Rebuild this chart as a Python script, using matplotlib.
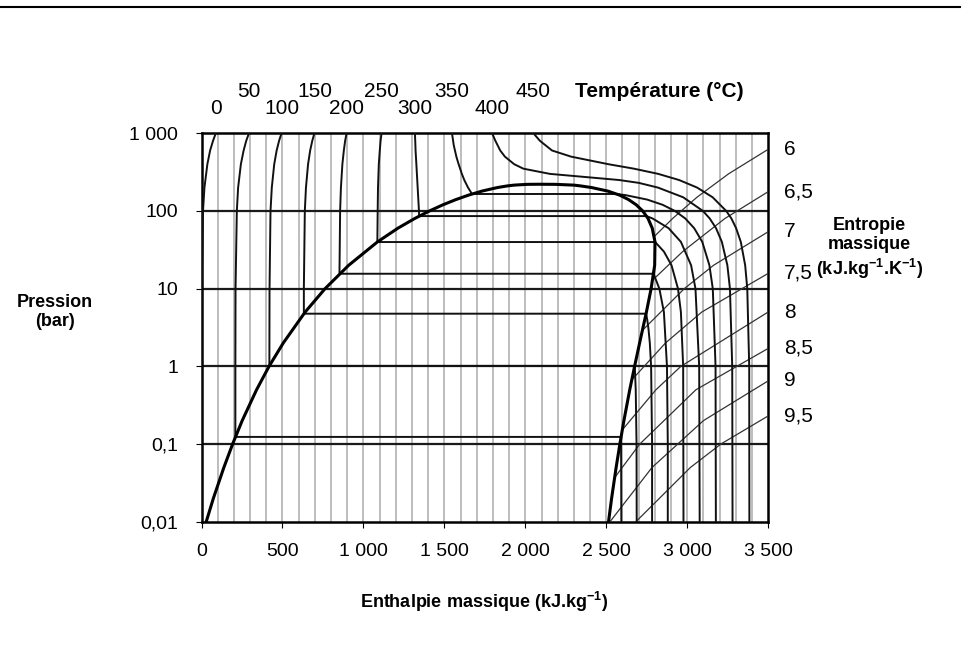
import matplotlib
matplotlib.use("Agg")
import matplotlib.pyplot as plt

plt.rcParams['font.family'] = ['Liberation Sans', 'DejaVu Sans']
plt.rcParams['mathtext.fontset'] = 'custom'
plt.rcParams['mathtext.rm'] = 'Liberation Sans'
plt.rcParams['mathtext.bf'] = 'Liberation Sans:bold'

# saturation curve (bar, kJ/kg)
sat_p = [0.01, 0.02, 0.05, 0.1, 0.2, 0.5, 1, 2, 5, 10, 20, 40, 60, 80, 100,
         120, 140, 160, 180, 200, 210, 215, 220, 220.64]
sat_hf = [29, 73, 138, 192, 251, 340, 417, 505, 640, 763, 909, 1087, 1213,
          1317, 1408, 1491, 1571, 1650, 1732, 1827, 1889, 1930, 2012, 2087]
sat_hg = [2514, 2533, 2561, 2584, 2609, 2645, 2675, 2706, 2748, 2777, 2799,
          2801, 2784, 2758, 2725, 2685, 2638, 2582, 2510, 2410, 2341, 2300,
          2185, 2087]

# isotherms (deg C): pressure and enthalpy along each line
temps = [0, 50, 100, 150, 200, 250, 300, 350, 400, 450]
iso_p = [
    [0.01, 1, 10, 100, 200, 400, 600, 800, 1000],
    [0.01, 0.05, 0.1235, 0.1235, 1, 10, 100, 200, 400, 600, 800, 1000],
    [0.01, 0.1, 0.5, 1.013, 1.013, 10, 100, 200, 400, 600, 800, 1000],
    [0.01, 0.1, 1, 2, 3, 4, 4.76, 4.76, 10, 100, 200, 400, 600, 800, 1000],
    [0.01, 0.1, 1, 5, 10, 15.55, 15.55, 100, 200, 400, 600, 800, 1000],
    [0.01, 1, 5, 10, 20, 30, 39.8, 39.8, 100, 200, 400, 600, 800, 1000],
    [0.01, 1, 10, 20, 40, 60, 80, 85.9, 85.9, 100, 200, 400, 600, 800, 1000],
    [0.01, 1, 10, 20, 40, 60, 80, 100, 120, 140, 160, 165.3, 165.3, 200, 250,
     300, 400, 500, 700, 1000],
    [0.01, 1, 10, 20, 40, 60, 80, 100, 150, 200, 230, 250, 270, 300, 350,
     400, 500, 600, 800, 1000],
    [0.01, 1, 10, 20, 40, 60, 80, 100, 150, 200, 250, 300, 350, 400, 500,
     600, 800, 1000],
]
iso_h = [
    [0, 0.1, 1, 9, 18, 36, 53, 71, 88],
    [2593, 2592, 2591, 209, 209, 210, 218, 226, 243, 260, 276, 293],
    [2688, 2687, 2682, 2676, 419, 420, 426, 434, 449, 464, 479, 494],
    [2783, 2783, 2777, 2769, 2761, 2753, 2746, 632, 632, 638, 645, 658, 671,
     684, 697],
    [2880, 2880, 2875, 2856, 2828, 2792, 852, 856, 861, 870, 879, 887, 896],
    [2977, 2975, 2961, 2943, 2903, 2856, 2802, 1086, 1088, 1090, 1095, 1101,
     1106, 1112],
    [3077, 3074, 3051, 3024, 2961, 2885, 2786, 2749, 1344, 1343, 1335, 1327,
     1322, 1320, 1318],
    [3177, 3175, 3158, 3137, 3093, 3043, 2988, 2924, 2848, 2753, 2618, 2564,
     1671, 1646, 1623, 1608, 1588, 1574, 1558, 1547],
    [3280, 3278, 3264, 3248, 3214, 3178, 3139, 3097, 2975, 2819, 2700, 2580,
     2400, 2152, 1988, 1931, 1874, 1845, 1815, 1795],
    [3384, 3383, 3371, 3358, 3331, 3302, 3273, 3241, 3157, 3061, 2950, 2821,
     2671, 2512, 2283, 2165, 2090, 2050],
]

# isentropes (kJ/kg/K)
entropies = ['6', '6,5', '7', '7,5', '8', '8,5', '9', '9,5']
ise_p = [
    [47, 80, 150, 300, 621],
    [12.8, 30, 80, 177],
    [2.9, 10, 20, 54],
    [0.66, 2, 5, 15.7],
    [0.153, 0.5, 1, 5.0],
    [0.037, 0.1, 0.5, 1.7],
    [0.01, 0.05, 0.2, 0.65],
    [0.01, 0.05, 0.1, 0.23],
]
ise_h = [
    [2797, 2910, 3060, 3255, 3500],
    [2785, 2972, 3233, 3500],
    [2723, 2982, 3163, 3500],
    [2655, 2866, 3090, 3500],
    [2600, 2807, 2961, 3500],
    [2552, 2707, 3054, 3500],
    [2523, 2783, 3100, 3500],
    [2683, 3020, 3208, 3500],
]

x_ticks = [0, 500, 1000, 1500, 2000, 2500, 3000, 3500]
x_labels = ['0', '500', '1 000', '1 500', '2 000', '2 500', '3 000', '3 500']
y_ticks = [0.01, 0.1, 1, 10, 100, 1000]
y_labels = ['0,01', '0,1', '1', '10', '100', '1 000']

fig = plt.figure(figsize=(9.62, 6.6), dpi=100)
ax = fig.add_axes([0.2095, 0.2095, 0.589, 0.5886])
ax.set_yscale('log')
ax.set_xlim(0, 3500)
ax.set_ylim(0.01, 1000)

# grid
for h in range(100, 3500, 100):
    ax.axvline(h, color='#b8b8b8', lw=1.3, zorder=1)
for p in [0.1, 1, 10, 100]:
    ax.axhline(p, color='#1a1a1a', lw=1.6, zorder=2)

# isentropes
for p, h in zip(ise_p, ise_h):
    ax.plot(h, p, color='#333333', lw=0.9, zorder=3)

# isotherms
for p, h in zip(iso_p, iso_h):
    ax.plot(h, p, color='#111111', lw=1.4, zorder=4)

# saturation dome
ax.plot(sat_hf + sat_hg[::-1], sat_p + sat_p[::-1], color='black', lw=2.2,
        zorder=5)

ax.set_xticks(x_ticks)
ax.set_xticklabels(x_labels)
ax.set_yticks(y_ticks)
ax.set_yticklabels(y_labels)
ax.yaxis.set_minor_locator(matplotlib.ticker.NullLocator())
ax.tick_params(axis='x', length=4, pad=11, labelsize=14)
ax.tick_params(axis='y', length=4, pad=13, labelsize=14)
for sp in ax.spines.values():
    sp.set_linewidth(1.8)

# temperature labels at the top of each isotherm
for i, t in enumerate(temps):
    y = 1.108 if i % 2 else 1.064
    ax.text(iso_h[i][-1], y, str(t), transform=ax.get_xaxis_transform(),
            ha='center', va='center', fontsize=15)
fig.text(0.598, 0.861, 'Température (°C)', fontsize=15, fontweight='bold',
         va='center')

# entropy labels on the right
for lab, p in zip(entropies, ise_p):
    ax.text(1.028, p[-1], lab, transform=ax.get_yaxis_transform(),
            ha='left', va='center', fontsize=15)

fig.text(0.904, 0.623, 'Entropie\nmassique\n(kJ.kg$^{\\mathbf{-1}}$.K$^{\\mathbf{-1}}$)',
         ha='center', va='center', fontsize=13, fontweight='bold')
fig.text(0.057, 0.527, 'Pression\n(bar)', ha='center', va='center',
         fontsize=13, fontweight='bold')
fig.text(0.503, 0.088, 'Enthalpie massique (kJ.kg$^{\\mathbf{-1}}$)',
         ha='center', va='center', fontsize=13, fontweight='bold')

# rule at the top of the page
fig.add_artist(plt.Line2D([0, 1], [0.989, 0.989], color='black', lw=1.5))

fig.savefig('out.png', dpi=100)
